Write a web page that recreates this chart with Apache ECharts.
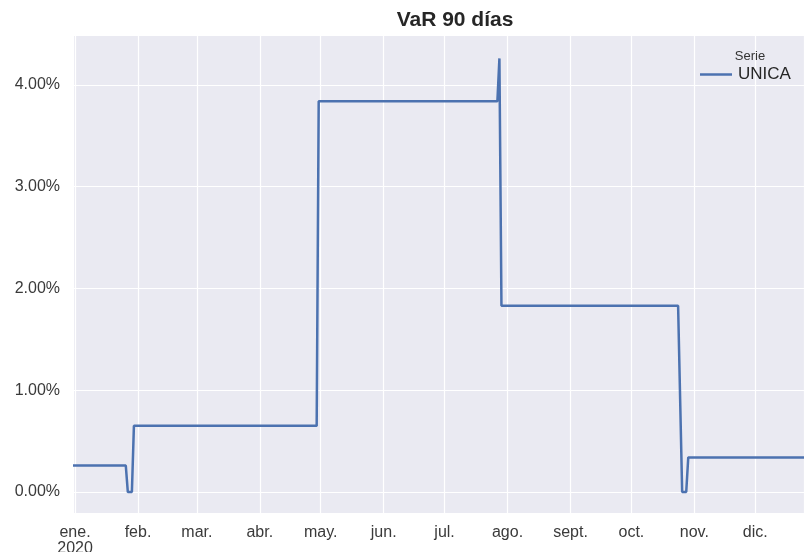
<!DOCTYPE html>
<html>
<head>
<meta charset="utf-8">
<script src="https://cdn.jsdelivr.net/npm/echarts@6/dist/echarts.min.js"></script>
<style>
  html, body { margin: 0; padding: 0; background: #fff; }
  #main { width: 804px; height: 552px; }
</style>
</head>
<body>
<div id="main"></div>
<script>
// puntos de la serie UNICA (fecha, VaR en %)
var fechas = ['2019-12-31', '2020-01-26', '2020-01-27', '2020-01-29', '2020-01-30',
              '2020-04-29', '2020-04-30', '2020-07-27', '2020-07-28', '2020-07-29',
              '2020-10-24', '2020-10-26', '2020-10-28', '2020-10-29', '2020-12-31'];
var valores = [0.26, 0.26, 0.00, 0.00, 0.65,
               0.65, 3.84, 3.84, 4.26, 1.83,
               1.83, 0.00, 0.00, 0.34, 0.34];
var meses = ['ene.', 'feb.', 'mar.', 'abr.', 'may.', 'jun.', 'jul.', 'ago.', 'sept.', 'oct.', 'nov.', 'dic.'];

var datos = fechas.map(function (f, i) { return [f, valores[i]]; });

var myChart = echarts.init(document.getElementById('main'));
var DIA = 24 * 3600 * 1000;
var option = {
    backgroundColor: '#fff',
    animation: false,
    textStyle: { fontFamily: 'Liberation Sans, Arial, sans-serif' },
    title: [{
        text: 'VaR 90 días',
        left: 450, top: 5,
        textAlign: 'center',
        textStyle: { fontSize: 21, fontWeight: 'bold', color: '#262626' }
    }, {
        text: 'Serie',
        left: 745, top: 45,
        textAlign: 'center',
        textStyle: { fontSize: 13, fontWeight: 'normal', color: '#333' }
    }],
    legend: {
        data: ['UNICA'],
        left: 695, top: 61,
        icon: 'rect',
        itemWidth: 32, itemHeight: 2.5,
        itemGap: 6,
        textStyle: { fontSize: 17, color: '#262626', padding: [0, 0, 0, 1] }
    },
    grid: {
        left: 73, right: 0, top: 35, bottom: 39,
        outerBoundsMode: 'none',
        show: true, backgroundColor: '#EAEAF2', borderWidth: 0
    },
    xAxis: {
        type: 'time',
        min: '2019-12-31',
        max: '2020-12-25',
        minInterval: 28 * DIA,
        maxInterval: 31 * DIA,
        axisLine: { show: false },
        axisTick: { show: false },
        splitLine: { show: true, lineStyle: { color: '#fff', width: 1.2 } },
        axisLabel: {
            showMinLabel: false, showMaxLabel: false,
            margin: 12,
            fontSize: 16, color: '#3a3a3a', lineHeight: 16,
            hideOverlap: false,
            formatter: function (v) {
                var d = new Date(v);
                var m = d.getMonth();
                return m === 0 ? 'ene.\n2020' : meses[m];
            }
        }
    },
    yAxis: {
        type: 'value',
        min: -0.206,
        max: 4.49,
        splitNumber: 5,
        axisLine: { show: false },
        axisTick: { show: false },
        splitLine: { show: true, lineStyle: { color: '#fff', width: 1.2 } },
        axisLabel: {
            showMinLabel: false, showMaxLabel: false,
            margin: 13,
            fontSize: 16, color: '#3a3a3a',
            formatter: function (v) { return v.toFixed(2) + '%'; }
        }
    },
    series: [{
        name: 'UNICA',
        type: 'line',
        data: datos,
        showSymbol: false,
        symbol: 'none',
        lineStyle: { color: '#4C72B0', width: 2.5 },
        itemStyle: { color: '#4C72B0' }
    }]
};
myChart.setOption(option);
</script>
</body>
</html>
